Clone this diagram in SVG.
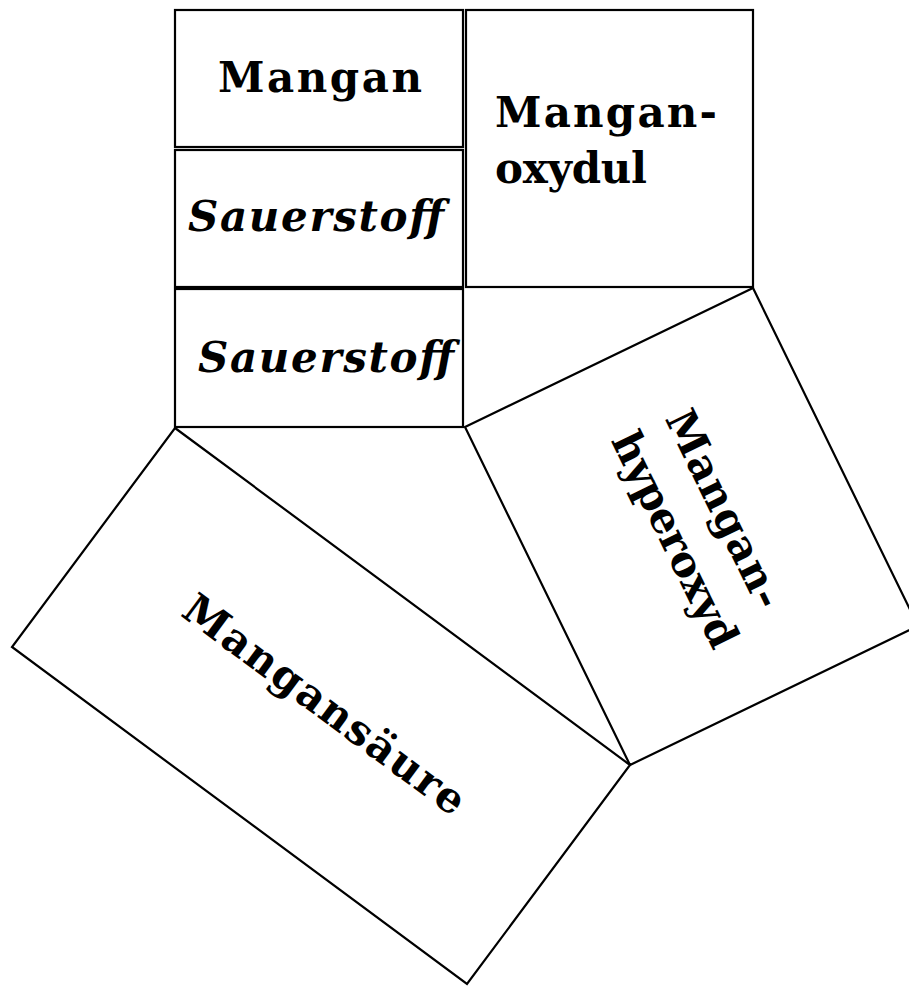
<svg xmlns="http://www.w3.org/2000/svg" width="909" height="987" viewBox="0 0 909 987">
<style>
.box{fill:#fff;stroke:#000;stroke-width:2.2;stroke-linejoin:miter}
.lbl{font-family:"DejaVu Serif","Liberation Serif",serif;font-weight:bold;font-size:42px;fill:#000}
</style>
<rect width="909" height="987" fill="#fff"/>
<g id="mangan">
<rect class="box" x="175" y="10" width="288" height="137"/>
<text class="lbl" x="218" y="92" textLength="204" lengthAdjust="spacing">Mangan</text>
</g>
<g id="sauerstoff1">
<rect class="box" x="175" y="150" width="288" height="137"/>
<text class="lbl" x="188" y="231" textLength="256" lengthAdjust="spacing" font-style="italic">Sauerstoff</text>
</g>
<g id="sauerstoff2">
<rect class="box" x="175" y="289" width="288" height="138"/>
<text class="lbl" x="198" y="372" textLength="256" lengthAdjust="spacing" font-style="italic">Sauerstoff</text>
</g>
<g id="manganoxydul">
<rect class="box" x="466" y="10" width="287" height="277"/>
<text class="lbl" x="495" y="127" textLength="222" lengthAdjust="spacing">Mangan-</text>
<text class="lbl" x="495" y="183" textLength="152" lengthAdjust="spacing">oxydul</text>
</g>
<g id="manganhyperoxyd">
<polygon class="box" points="465,427 753,288 918,626 630,765"/>
<g transform="translate(691.5,526.5) rotate(64)">
<text class="lbl" x="-109" y="-23" textLength="215" lengthAdjust="spacing">Mangan-</text>
<text class="lbl" x="-113" y="35" textLength="235" lengthAdjust="spacing">hyperoxyd</text>
</g>
</g>
<g id="mangansaeure">
<polygon class="box" points="175,428 630,765 467,984 12,647"/>
<g transform="translate(321,706) rotate(36.5)">
<text class="lbl" x="-168" y="11" textLength="340" lengthAdjust="spacing">Mangansäure</text>
</g>
</g>
<g id="connectors"></g>
</svg>
